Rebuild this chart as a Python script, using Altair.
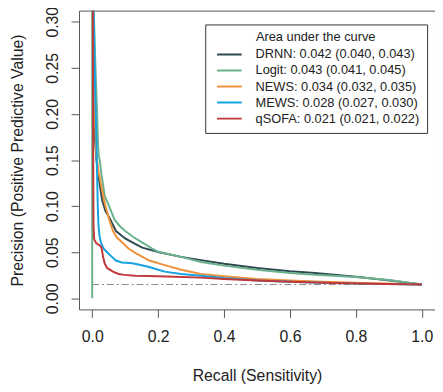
import altair as alt
import pandas as pd

series_names = [
    "DRNN: 0.042 (0.040, 0.043)",
    "Logit: 0.043 (0.041, 0.045)",
    "NEWS: 0.034 (0.032, 0.035)",
    "MEWS: 0.028 (0.027, 0.030)",
    "qSOFA: 0.021 (0.021, 0.022)",
]
series_colors = ["#2E4A50", "#6AB28D", "#F0923B", "#17A3DF", "#C0383A"]

drnn_recall = [0.000, 0.002, 0.005, 0.008, 0.010, 0.013, 0.018, 0.023, 0.030, 0.040, 0.053, 0.072,
               0.100, 0.130, 0.152, 0.203, 0.270, 0.330, 0.400, 0.500, 0.600, 0.675, 0.800, 0.910, 1.000]
drnn_precision = [0.400, 0.310, 0.220, 0.175, 0.165, 0.150, 0.135, 0.123, 0.107, 0.095, 0.087, 0.073,
                  0.065, 0.059, 0.055, 0.050, 0.045, 0.0415, 0.0375, 0.033, 0.0295, 0.0275, 0.0235, 0.019, 0.015]

logit_recall = [0.000, 0.000, 0.005, 0.010, 0.015, 0.018, 0.020, 0.023, 0.028, 0.038, 0.048, 0.068,
                0.085, 0.100, 0.127, 0.150, 0.182, 0.197, 0.220, 0.270, 0.330, 0.400, 0.500, 0.600,
                0.675, 0.800, 0.900, 0.950, 1.000]
logit_precision = [0.000, 0.400, 0.310, 0.250, 0.200, 0.165, 0.155, 0.150, 0.135, 0.111, 0.103, 0.085,
                   0.078, 0.073, 0.066, 0.061, 0.054, 0.051, 0.049, 0.045, 0.0395, 0.0355, 0.031, 0.0275,
                   0.0255, 0.0232, 0.020, 0.0175, 0.015]

news_recall = [0.000, 0.003, 0.006, 0.009, 0.012, 0.018, 0.027, 0.035, 0.042, 0.052, 0.063, 0.075,
               0.093, 0.110, 0.132, 0.173, 0.220, 0.270, 0.330, 0.400, 0.500, 0.600, 0.700, 0.800, 1.000]
news_precision = [0.400, 0.310, 0.250, 0.190, 0.158, 0.140, 0.123, 0.108, 0.098, 0.085, 0.073, 0.066,
                  0.060, 0.054, 0.049, 0.041, 0.036, 0.031, 0.0265, 0.024, 0.021, 0.0195, 0.018, 0.017, 0.015]

mews_recall = [0.000, 0.004, 0.007, 0.010, 0.013, 0.015, 0.017, 0.019, 0.022, 0.027, 0.035, 0.048,
               0.060, 0.072, 0.090, 0.122, 0.150, 0.173, 0.200, 0.220, 0.270, 0.330, 0.400, 0.500,
               0.600, 0.700, 0.800, 1.000]
mews_precision = [0.400, 0.320, 0.260, 0.210, 0.170, 0.130, 0.100, 0.080, 0.068, 0.060, 0.054, 0.049,
                  0.045, 0.041, 0.039, 0.038, 0.036, 0.034, 0.031, 0.029, 0.0265, 0.0245, 0.022, 0.0195,
                  0.018, 0.017, 0.016, 0.015]

qsofa_recall = [0.000, 0.002, 0.003, 0.004, 0.006, 0.012, 0.025, 0.029, 0.033, 0.038, 0.045, 0.063,
                0.080, 0.098, 0.130, 0.173, 0.250, 0.330, 0.400, 0.500, 0.600, 0.700, 0.800, 1.000]
qsofa_precision = [0.400, 0.310, 0.150, 0.080, 0.064, 0.060, 0.057, 0.054, 0.045, 0.038, 0.033, 0.029,
                   0.0265, 0.0255, 0.0245, 0.0243, 0.0235, 0.0225, 0.021, 0.0195, 0.018, 0.017, 0.0162, 0.015]

baseline_recall = [0.0, 1.0]
baseline_precision = [0.015, 0.015]

x_ticks = [0.0, 0.2, 0.4, 0.6, 0.8, 1.0]
y_ticks = [0.00, 0.05, 0.10, 0.15, 0.20, 0.25, 0.30]

all_series = [
    (series_names[0], drnn_recall, drnn_precision),
    (series_names[1], logit_recall, logit_precision),
    (series_names[2], news_recall, news_precision),
    (series_names[3], mews_recall, mews_precision),
    (series_names[4], qsofa_recall, qsofa_precision),
]

FONT = "Liberation Sans"

x_scale = alt.Scale(domain=[-0.04, 1.04], nice=False, zero=False)
y_scale = alt.Scale(domain=[-0.012, 0.312], nice=False, zero=False)
color_scale = alt.Scale(domain=series_names, range=series_colors)

x_axis = alt.Axis(
    values=x_ticks, format=".1f", title="Recall (Sensitivity)",
    grid=False, domain=False, tickSize=8, tickColor="#555",
    labelFont=FONT, labelFontSize=16, labelColor="#222", labelPadding=12,
    titleFont=FONT, titleFontSize=16, titleFontWeight="normal", titleColor="#222",
    titleY=67, titleBaseline="middle",
)
y_axis = alt.Axis(
    values=y_ticks, format=".2f", title="Precision (Positive Predictive Value)",
    grid=False, domain=False, tickSize=8, tickColor="#555",
    labelFont=FONT, labelFontSize=16, labelColor="#222", labelPadding=19,
    labelAngle=270, labelAlign="center", labelBaseline="middle",
    titleFont=FONT, titleFontSize=16, titleFontWeight="normal", titleColor="#222",
    titleX=-62, titleBaseline="middle",
)

legend = alt.Legend(
    orient="none", legendX=128, legendY=14, direction="vertical",
    title="Area under the curve", titleFont=FONT, titleFontSize=13, titleFontWeight="normal",
    titleColor="#222", titleAnchor="middle", titlePadding=4,
    labelFont=FONT, labelFontSize=13, labelColor="#222", labelLimit=0, labelOffset=13,
    symbolType="stroke", symbolSize=625, symbolStrokeWidth=2, symbolOffset=4,
    clipHeight=13, rowPadding=2.25, padding=7,
    strokeColor="#333", fillColor="white", cornerRadius=0,
)

layers = []
base_df = pd.DataFrame({"recall": baseline_recall, "precision": baseline_precision})
layers.append(
    alt.Chart(base_df).mark_line(color="#888", strokeWidth=1, strokeDash=[7, 3, 2, 3], clip=True).encode(
        x=alt.X("recall:Q", scale=x_scale, axis=x_axis),
        y=alt.Y("precision:Q", scale=y_scale, axis=y_axis),
    )
)

for i, (name, rec, prec) in enumerate(all_series):
    df = pd.DataFrame({"recall": rec, "precision": prec, "series": name, "idx": list(range(len(rec)))})
    layers.append(
        alt.Chart(df).mark_line(strokeWidth=2, clip=True).encode(
            x=alt.X("recall:Q", scale=x_scale, axis=x_axis),
            y=alt.Y("precision:Q", scale=y_scale, axis=y_axis),
            color=alt.Color("series:N", scale=color_scale, legend=legend, sort=series_names),
            order=alt.Order("idx:Q"),
        )
    )

chart = alt.layer(*layers).properties(
    width=361, height=303,
    autosize=alt.AutoSizeParams(type="none"),
    padding={"left": 72, "top": 0, "right": 0, "bottom": 78},
).configure_view(stroke="#555", strokeWidth=1)

chart.save("out.html", embed_options={"renderer": "svg", "actions": False})
